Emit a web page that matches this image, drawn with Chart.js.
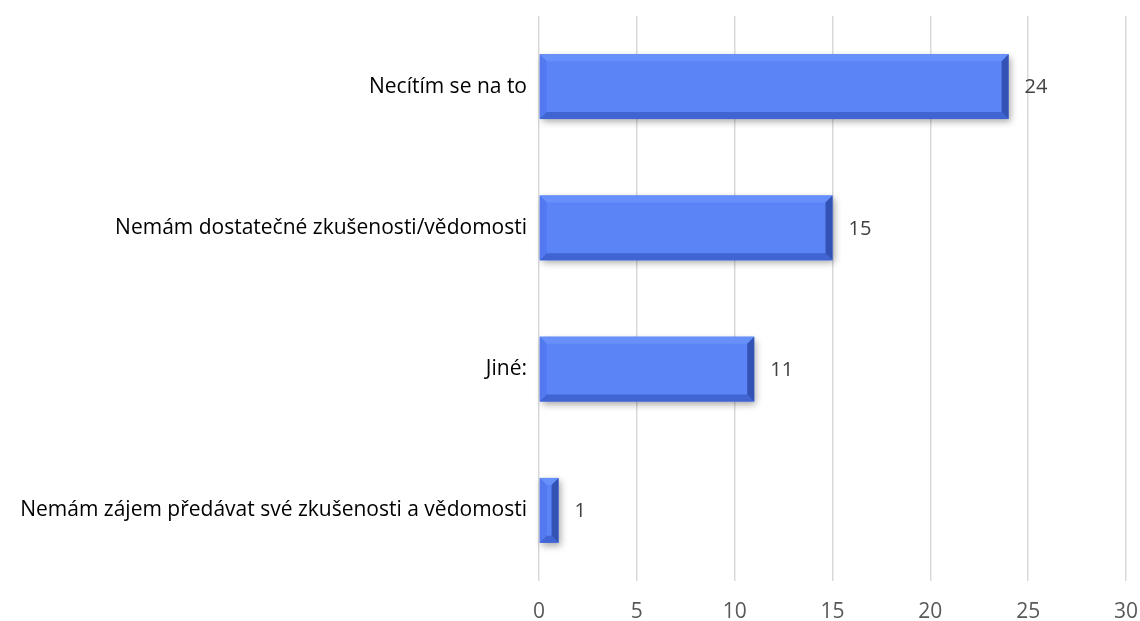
<!DOCTYPE html>
<html>
<head>
<meta charset="utf-8">
<script src="https://cdn.jsdelivr.net/npm/chart.js@4"></script>
<style>
  html, body { margin: 0; padding: 0; background: #fff; }
  #wrap { width: 1140px; height: 621px; }
</style>
</head>
<body>
<div id="wrap"><canvas id="myChart"></canvas></div>
<script>
const categories = [
  "Necítím se na to",
  "Nemám dostatečné zkušenosti/vědomosti",
  "Jiné:",
  "Nemám zájem předávat své zkušenosti a vědomosti"
];
const counts = [24, 15, 11, 1];
const tickValues = [0, 5, 10, 15, 20, 25, 30];

const fontFamily = "'Open Sans', Lato, sans-serif";

// bevelled look on each bar: light top/left edge, dark bottom/right edge
const bevelPlugin = {
  id: "bevel",
  beforeDatasetsDraw(chart) {
    const ctx = chart.ctx;
    chart.getDatasetMeta(0).data.forEach((bar) => {
      const left = Math.min(bar.base, bar.x);
      const w = Math.abs(bar.x - bar.base);
      const top = bar.y - bar.height / 2;
      ctx.save();
      ctx.shadowColor = "rgba(0,0,0,0.35)";
      ctx.shadowBlur = 7;
      ctx.shadowOffsetX = 2;
      ctx.shadowOffsetY = 3;
      ctx.fillStyle = "#5b84f7";
      ctx.fillRect(left, top, w, bar.height);
      ctx.restore();
    });
  },
  afterDatasetsDraw(chart) {
    const ctx = chart.ctx;
    chart.getDatasetMeta(0).data.forEach((bar, i) => {
      const x0 = Math.min(bar.base, bar.x);
      const x1 = Math.max(bar.base, bar.x);
      const y0 = bar.y - bar.height / 2;
      const y1 = bar.y + bar.height / 2;
      const b = Math.min(7, (x1 - x0) / 2, (y1 - y0) / 2);
      const poly = (pts, color) => {
        ctx.beginPath();
        ctx.moveTo(pts[0][0], pts[0][1]);
        for (let k = 1; k < pts.length; k++) ctx.lineTo(pts[k][0], pts[k][1]);
        ctx.closePath();
        ctx.fillStyle = color;
        ctx.fill();
      };
      ctx.save();
      poly([[x0, y0], [x1, y0], [x1 - b, y0 + b], [x0 + b, y0 + b]], "#6890fa");
      poly([[x0, y0], [x0 + b, y0 + b], [x0 + b, y1 - b], [x0, y1]], "#5279ef");
      poly([[x0, y1], [x0 + b, y1 - b], [x1 - b, y1 - b], [x1, y1]], "#4064d2");
      poly([[x1, y0], [x1, y1], [x1 - b, y1 - b], [x1 - b, y0 + b]], "#3253b3");
      ctx.restore();

      // value label
      ctx.save();
      ctx.font = "20px " + fontFamily;
      ctx.fillStyle = "#404040";
      ctx.textAlign = "left";
      ctx.textBaseline = "middle";
      ctx.fillText(String(counts[i]), x1 + 16, bar.y + 1);
      ctx.restore();
    });
  }
};

const ctx = document.getElementById("myChart").getContext("2d");
const myChart = new Chart(ctx, {
  type: "bar",
  data: {
    labels: categories,
    datasets: [
      {
        data: counts,
        backgroundColor: "rgba(0,0,0,0)",
        borderWidth: 0,
        barPercentage: 0.92,
        categoryPercentage: 0.5
      }
    ]
  },
  options: {
    indexAxis: "y",
    responsive: true,
    maintainAspectRatio: false,
    animation: false,
    layout: { padding: { top: 16, right: 14, left: 0, bottom: 0 } },
    plugins: {
      legend: { display: false },
      tooltip: { enabled: false }
    },
    scales: {
      x: {
        min: 0,
        max: 30,
        afterBuildTicks(axis) {
          axis.ticks = tickValues.map((v) => ({ value: v }));
        },
        afterFit(axis) {
          axis.height = 40;
          axis.paddingLeft = 0;
          axis.paddingRight = 0;
        },
        border: { display: false },
        grid: { color: "#d9d9d9", lineWidth: 1.5, drawTicks: false },
        ticks: {
          padding: 18,
          color: "#595959",
          font: { family: fontFamily, size: 21 }
        }
      },
      y: {
        afterFit(axis) {
          axis.width = 539;
          axis.paddingTop = 0;
          axis.paddingBottom = 0;
        },
        border: { display: false },
        grid: { display: false, drawTicks: false },
        ticks: {
          padding: 12,
          color: "#000000",
          font: { family: fontFamily, size: 21 }
        }
      }
    }
  },
  plugins: [bevelPlugin]
});
</script>
</body>
</html>
